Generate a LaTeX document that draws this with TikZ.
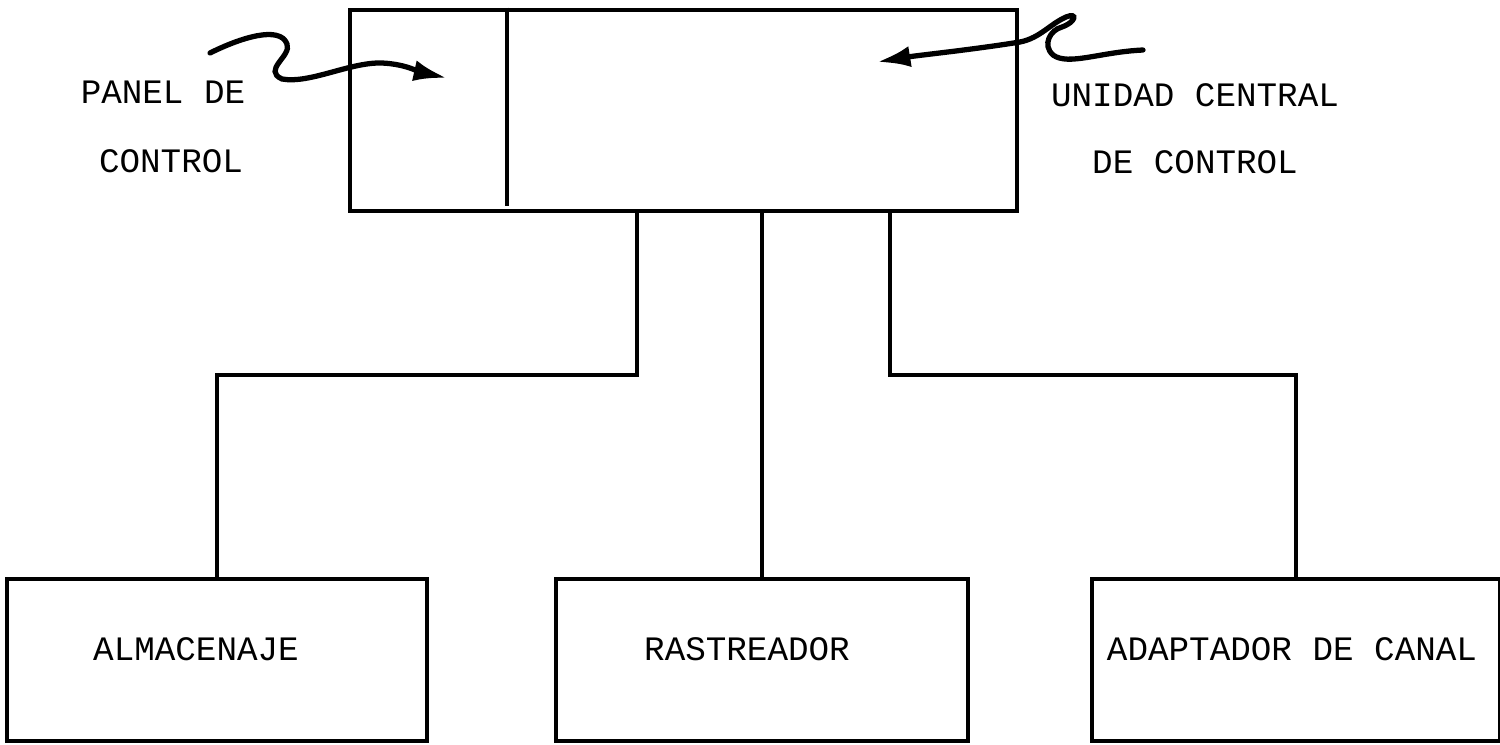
\documentclass[tikz,border=0pt]{standalone}
\usepackage{fontspec}
\usepackage{tikz}
\usetikzlibrary{arrows.meta,positioning,calc}
\newfontfamily\typefont{Liberation Mono}

\begin{document}
\begin{tikzpicture}[x=0.02cm,y=-0.02cm,
  font=\typefont\fontsize{19.5}{23}\selectfont,
  blk/.style={draw,line width=2.7pt,inner sep=0pt},
  lbl/.style={inner sep=0pt,align=center},
  wire/.style={line width=2.4pt},
  arr/.style={line width=3pt,line cap=round,-{Latex[length=19pt,width=12pt]}}]
  \useasboundingbox (0,0) rectangle (1500,744);

  \node[blk,minimum width=13.34cm,minimum height=4.02cm] (ucc) at (683.5,110.5) {};
  \coordinate (div) at (507,0);
  \draw[wire,line width=2.7pt] (ucc.north -| div) -- ([yshift=4pt]ucc.south -| div);

  \node[blk,minimum width=8.4cm,minimum height=3.24cm] (alm) at (217,660) {};
  \node[blk,minimum width=8.24cm,minimum height=3.24cm] (ras) at (762,660) {};
  \node[blk,minimum width=8.16cm,minimum height=3.24cm] (ada) at (1296,660) {};

  \node[lbl] (almt) at (196,649) {ALMACENAJE};
  \node[lbl] (rast) at (747,649) {RASTREADOR};
  \node[lbl] (adat) at (1292,649) {ADAPTADOR DE CANAL};

  \node[lbl] (pan1) at (163,92) {PANEL DE};
  \node[lbl] (pan2) at (171,161) {CONTROL};
  \node[lbl] (uni1) at (1195,95) {UNIDAD CENTRAL};
  \node[lbl] (uni2) at (1195,162) {DE CONTROL};

  % branches down to the three units
  \coordinate (jl) at (637,375);
  \coordinate (jr) at (890,375);
  \draw[wire] (ucc.south -| jl) -- (jl) -| (alm.north);
  \draw[wire] (ucc.south -| ras.north) -- (ras.north);
  \draw[wire] (ucc.south -| jr) -- (jr) -| (ada.north);

  % pointers
  \draw[arr] (210,53) .. controls (240,38) and (280,25) .. (287,44)
    .. controls (292,56) and (262,70) .. (282,79)
    .. controls (310,84) and (350,62) .. (382,63)
    .. controls (405,64) and (420,72) .. (447,78);
  \draw[arr] (1143,50) .. controls (1100,52) and (1068,66) .. (1053,55)
    .. controls (1042,45) and (1050,30) .. (1062,27)
    .. controls (1076,22) and (1078,12) .. (1066,17)
    .. controls (1050,24) and (1040,38) .. (1020,42)
    .. controls (970,50) and (920,55) .. (877,62);
\end{tikzpicture}
\end{document}
